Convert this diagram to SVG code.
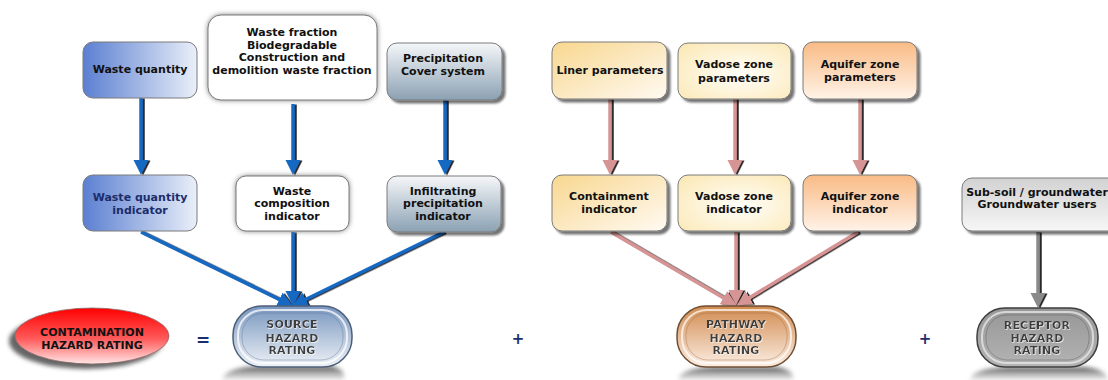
<svg xmlns="http://www.w3.org/2000/svg" width="1108" height="380" viewBox="0 0 1108 380">
  <style>
    .box { stroke: #7a7a7a; stroke-width: 1; }
    .lbl { font-family: "DejaVu Sans", Verdana, sans-serif; font-weight: bold; font-size: 11px; fill: #111; text-anchor: middle; }
    .navy { fill: #1c2d6b; }
    .rate { font-family: "DejaVu Sans", Verdana, sans-serif; font-weight: bold; font-size: 11px; fill: #3c3c3c; text-anchor: middle; letter-spacing: 0.2px; }
    .op { font-family: "DejaVu Sans", Verdana, sans-serif; font-weight: bold; fill: #1c2d6b; text-anchor: middle; }
    .blue { stroke: #1769c2; stroke-width: 3.5; fill: none; }
    .pink { stroke: #d69494; stroke-width: 3.5; fill: none; }
    .grey { stroke: #8a8a8a; stroke-width: 3.5; fill: none; }
  </style>
  <defs>
    <filter id="shadow" x="-10%" y="-10%" width="130%" height="130%">
      <feDropShadow dx="3" dy="3" stdDeviation="1" flood-color="#000" flood-opacity="0.55"/>
    </filter>
    <filter id="glow" x="-15%" y="-15%" width="130%" height="130%">
      <feDropShadow dx="0" dy="0" stdDeviation="2.5" flood-color="#777" flood-opacity="0.9"/>
    </filter>
    <filter id="lineShadow" x="-20%" y="-20%" width="140%" height="140%">
      <feDropShadow dx="2" dy="0.5" stdDeviation="0.3" flood-color="#1a1a1a" flood-opacity="0.95"/>
    </filter>
    <filter id="soft" x="-20%" y="-50%" width="140%" height="200%">
      <feGaussianBlur stdDeviation="2"/>
    </filter>
    <filter id="emboss" x="-10%" y="-10%" width="120%" height="120%">
      <feDropShadow dx="0.6" dy="0.8" stdDeviation="0.2" flood-color="#fff" flood-opacity="0.9"/>
    </filter>

    <linearGradient id="blueG" x1="0" y1="0" x2="1" y2="0">
      <stop offset="0" stop-color="#5b7fd1"/>
      <stop offset="1" stop-color="#eaeff9"/>
    </linearGradient>
    <linearGradient id="slateG" x1="0" y1="0" x2="0" y2="1">
      <stop offset="0" stop-color="#f5f7f9"/>
      <stop offset="1" stop-color="#8ba1b3"/>
    </linearGradient>
    <linearGradient id="linerG" x1="0" y1="0" x2="1" y2="1">
      <stop offset="0" stop-color="#f8d78f"/>
      <stop offset="1" stop-color="#fffaf2"/>
    </linearGradient>
    <radialGradient id="vadoseG" cx="0.55" cy="0.55" r="0.7">
      <stop offset="0" stop-color="#fffefa"/>
      <stop offset="1" stop-color="#fbe9b8"/>
    </radialGradient>
    <linearGradient id="aquiferG" x1="0" y1="0" x2="0" y2="1">
      <stop offset="0" stop-color="#f9bb85"/>
      <stop offset="1" stop-color="#fff3e8"/>
    </linearGradient>
    <linearGradient id="greyG" x1="0" y1="0" x2="0" y2="1">
      <stop offset="0" stop-color="#d2d2d2"/>
      <stop offset="1" stop-color="#f6f6f6"/>
    </linearGradient>
    <linearGradient id="redG" x1="0" y1="0" x2="0" y2="1">
      <stop offset="0" stop-color="#ff0000"/>
      <stop offset="0.55" stop-color="#ff5a5a"/>
      <stop offset="1" stop-color="#ffe6e6"/>
    </linearGradient>
    <linearGradient id="srcG" x1="0" y1="0" x2="0" y2="1">
      <stop offset="0" stop-color="#7896bf"/>
      <stop offset="1" stop-color="#eef2f7"/>
    </linearGradient>
    <linearGradient id="pathG" x1="0" y1="0" x2="0" y2="1">
      <stop offset="0" stop-color="#d18a4f"/>
      <stop offset="1" stop-color="#fcefe4"/>
    </linearGradient>
    <linearGradient id="recG" x1="0" y1="0" x2="0" y2="1">
      <stop offset="0" stop-color="#969696"/>
      <stop offset="1" stop-color="#b4b4b4"/>
    </linearGradient>
    <linearGradient id="floorG" x1="0" y1="0" x2="0" y2="1">
      <stop offset="0" stop-color="#3a3a3a" stop-opacity="0.9"/>
      <stop offset="1" stop-color="#9a9a9a" stop-opacity="0.2"/>
    </linearGradient>

    <marker id="headBlue" markerUnits="userSpaceOnUse" markerWidth="16" markerHeight="16" refX="3" refY="7.5" orient="auto">
      <path d="M0,0 L15,7.5 L0,15 z" fill="#1769c2"/>
    </marker>
    <marker id="headPink" markerUnits="userSpaceOnUse" markerWidth="16" markerHeight="16" refX="3" refY="7.5" orient="auto">
      <path d="M0,0 L15,7.5 L0,15 z" fill="#d69494"/>
    </marker>
    <marker id="headGrey" markerUnits="userSpaceOnUse" markerWidth="16" markerHeight="16" refX="3" refY="7.5" orient="auto">
      <path d="M0,0 L15,7.5 L0,15 z" fill="#8a8a8a"/>
    </marker>
  </defs>

  <rect width="1108" height="380" fill="#ffffff"/>

  <!-- connectors -->
  <g id="connectors" filter="url(#lineShadow)">
    <!-- source pathway (blue) -->
    <line class="blue" x1="141" y1="98" x2="141" y2="163" marker-end="url(#headBlue)"/>
    <line class="blue" x1="293" y1="104" x2="293" y2="163" marker-end="url(#headBlue)"/>
    <line class="blue" x1="445" y1="100" x2="445" y2="163" marker-end="url(#headBlue)"/>
    <line class="blue" x1="141" y1="232" x2="282" y2="300.7" marker-end="url(#headBlue)"/>
    <line class="blue" x1="293" y1="232" x2="293" y2="294" marker-end="url(#headBlue)"/>
    <line class="blue" x1="444" y1="232" x2="303" y2="300.7" marker-end="url(#headBlue)"/>
    <!-- pathway (pink) -->
    <line class="pink" x1="610" y1="99" x2="610" y2="163" marker-end="url(#headPink)"/>
    <line class="pink" x1="735" y1="99" x2="735" y2="163" marker-end="url(#headPink)"/>
    <line class="pink" x1="860" y1="99" x2="860" y2="163" marker-end="url(#headPink)"/>
    <line class="pink" x1="611" y1="232" x2="726" y2="299.2" marker-end="url(#headPink)"/>
    <line class="pink" x1="736" y1="232" x2="736" y2="293" marker-end="url(#headPink)"/>
    <line class="pink" x1="858" y1="232" x2="747" y2="299.2" marker-end="url(#headPink)"/>
    <!-- receptor (grey) -->
    <line class="grey" x1="1038" y1="232" x2="1038" y2="296" marker-end="url(#headGrey)"/>
  </g>

  <!-- source inputs -->
  <g id="waste-quantity">
    <rect class="box" x="83" y="42" width="114" height="56" rx="10" fill="url(#blueG)"/>
    <text class="lbl" x="140" y="73">Waste quantity</text>
  </g>
  <g id="waste-fraction">
    <rect class="box" x="208" y="15" width="169" height="85" rx="13" fill="#ffffff" filter="url(#glow)"/>
    <text class="lbl" x="292" y="36">Waste fraction</text>
    <text class="lbl" x="292" y="49">Biodegradable</text>
    <text class="lbl" x="292" y="61">Construction and</text>
    <text class="lbl" x="292" y="74">demolition waste fraction</text>
  </g>
  <g id="precipitation">
    <rect class="box" x="387" y="43" width="115" height="57" rx="10" fill="url(#slateG)" filter="url(#shadow)"/>
    <text class="lbl" x="443" y="62">Precipitation</text>
    <text class="lbl" x="443" y="75">Cover system</text>
  </g>

  <!-- source indicators -->
  <g id="waste-quantity-indicator">
    <rect class="box" x="83" y="175" width="114" height="56" rx="10" fill="url(#blueG)"/>
    <text class="lbl navy" x="140" y="201">Waste quantity</text>
    <text class="lbl navy" x="140" y="214">indicator</text>
  </g>
  <g id="waste-composition-indicator">
    <rect class="box" x="236" y="176" width="113" height="55" rx="10" fill="#ffffff" filter="url(#glow)"/>
    <text class="lbl" x="292" y="195">Waste</text>
    <text class="lbl" x="292" y="207">composition</text>
    <text class="lbl" x="292" y="220">indicator</text>
  </g>
  <g id="infiltrating-precipitation-indicator">
    <rect class="box" x="387" y="176" width="114" height="56" rx="10" fill="url(#slateG)" filter="url(#shadow)"/>
    <text class="lbl" x="443" y="195">Infiltrating</text>
    <text class="lbl" x="443" y="207">precipitation</text>
    <text class="lbl" x="443" y="220">indicator</text>
  </g>

  <!-- pathway inputs -->
  <g id="liner-parameters">
    <rect class="box" x="552" y="42" width="115" height="57" rx="10" fill="url(#linerG)" filter="url(#shadow)"/>
    <text class="lbl" x="610" y="74">Liner parameters</text>
  </g>
  <g id="vadose-zone-parameters">
    <rect class="box" x="678" y="43" width="113" height="56" rx="10" fill="url(#vadoseG)" filter="url(#shadow)"/>
    <text class="lbl" x="734" y="68">Vadose zone</text>
    <text class="lbl" x="734" y="82">parameters</text>
  </g>
  <g id="aquifer-zone-parameters">
    <rect class="box" x="803" y="42" width="114" height="57" rx="10" fill="url(#aquiferG)" filter="url(#shadow)"/>
    <text class="lbl" x="860" y="68">Aquifer zone</text>
    <text class="lbl" x="860" y="81">parameters</text>
  </g>

  <!-- pathway indicators -->
  <g id="containment-indicator">
    <rect class="box" x="552" y="175" width="115" height="56" rx="10" fill="url(#linerG)" filter="url(#shadow)"/>
    <text class="lbl" x="609" y="200">Containment</text>
    <text class="lbl" x="609" y="213">indicator</text>
  </g>
  <g id="vadose-zone-indicator">
    <rect class="box" x="678" y="175" width="113" height="56" rx="10" fill="url(#vadoseG)" filter="url(#shadow)"/>
    <text class="lbl" x="734" y="200">Vadose zone</text>
    <text class="lbl" x="734" y="213">indicator</text>
  </g>
  <g id="aquifer-zone-indicator">
    <rect class="box" x="803" y="175" width="114" height="56" rx="10" fill="url(#aquiferG)" filter="url(#shadow)"/>
    <text class="lbl" x="860" y="200">Aquifer zone</text>
    <text class="lbl" x="860" y="213">indicator</text>
  </g>

  <!-- receptor input -->
  <g id="receptor-input">
    <rect class="box" x="962" y="178" width="156" height="53" rx="10" fill="url(#greyG)" filter="url(#shadow)"/>
    <text class="lbl" x="1037" y="196">Sub-soil / groundwater</text>
    <text class="lbl" x="1037" y="208">Groundwater users</text>
  </g>

  <!-- overall rating -->
  <g id="contamination-hazard-rating">
    <ellipse cx="86" cy="341" rx="77" ry="28" fill="#333" opacity="0.75" filter="url(#soft)"/>
    <ellipse cx="92" cy="336" rx="77" ry="28" fill="url(#redG)" stroke="#8a6a6a" stroke-width="0.8"/>
    <text class="lbl" x="92" y="336">CONTAMINATION</text>
    <text class="lbl" x="92" y="349">HAZARD RATING</text>
  </g>
  <text class="op" x="203" y="346" font-size="17">=</text>

  <g id="source-hazard-rating">
    <path d="M222,380 Q224,367 262,366 L330,366 Q346,368 344,380 Z" fill="url(#floorG)" filter="url(#soft)"/>
    <rect x="233" y="306" width="119" height="61" rx="29" fill="url(#srcG)" stroke="#4d5f78" stroke-width="1.5"/>
    <rect x="238" y="310" width="109" height="53" rx="25" fill="none" stroke="#ffffff" stroke-opacity="0.75" stroke-width="2"/>
    <rect x="242" y="313" width="101" height="47" rx="22" fill="none" stroke="#5d7391" stroke-opacity="0.5" stroke-width="0.8"/>
    <g filter="url(#emboss)">
      <text class="rate" x="292" y="328">SOURCE</text>
      <text class="rate" x="292" y="342">HAZARD</text>
      <text class="rate" x="292" y="354">RATING</text>
    </g>
  </g>
  <text class="op" x="518" y="344" font-size="15">+</text>

  <g id="pathway-hazard-rating">
    <path d="M678,380 Q680,368 715,367 L775,367 Q795,369 793,380 Z" fill="url(#floorG)" filter="url(#soft)"/>
    <rect x="677" y="306" width="119" height="61" rx="29" fill="url(#pathG)" stroke="#6e4e34" stroke-width="1.5"/>
    <rect x="682" y="310" width="109" height="53" rx="25" fill="none" stroke="#ffffff" stroke-opacity="0.7" stroke-width="2"/>
    <rect x="686" y="313" width="101" height="47" rx="22" fill="none" stroke="#9a6a44" stroke-opacity="0.5" stroke-width="0.8"/>
    <g filter="url(#emboss)">
      <text class="rate" x="736" y="328">PATHWAY</text>
      <text class="rate" x="736" y="342">HAZARD</text>
      <text class="rate" x="736" y="354">RATING</text>
    </g>
  </g>
  <text class="op" x="925" y="344" font-size="15">+</text>

  <g id="receptor-hazard-rating">
    <path d="M970,380 Q972,368 1010,367 L1085,367 Q1106,369 1108,380 Z" fill="url(#floorG)" filter="url(#soft)"/>
    <rect x="977" y="308" width="121" height="59" rx="28" fill="url(#recG)" stroke="#3e3e3e" stroke-width="1.5"/>
    <rect x="982" y="312" width="111" height="51" rx="24" fill="none" stroke="#e6e6e6" stroke-opacity="0.8" stroke-width="2"/>
    <rect x="986" y="315" width="103" height="45" rx="21" fill="none" stroke="#555" stroke-opacity="0.5" stroke-width="0.8"/>
    <g filter="url(#emboss)">
      <text class="rate" x="1037" y="329">RECEPTOR</text>
      <text class="rate" x="1037" y="342">HAZARD</text>
      <text class="rate" x="1037" y="354">RATING</text>
    </g>
  </g>
</svg>
